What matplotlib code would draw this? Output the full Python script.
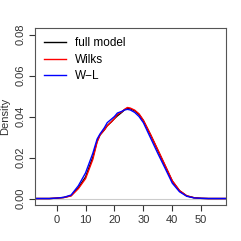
import numpy as np
import matplotlib
matplotlib.use('Agg')
import matplotlib.pyplot as plt

plt.rcParams['font.family'] = ['Liberation Sans', 'DejaVu Sans']

# density curves
x = [-8, -5, -2.5, 0, 2.5, 5, 7.5, 10, 12.5, 14, 15, 16.5, 17.5, 19, 20, 21,
     22.5, 23.5, 24.5, 25.5, 27, 28.5, 30, 32.5, 35, 37.5, 40, 42.5, 45,
     47.5, 50, 52.5, 56, 59]
full_model = [0, 0, 0, 0.0002, 0.0005, 0.0014, 0.0052, 0.0105, 0.020, 0.028,
              0.031, 0.0335, 0.0355, 0.0375, 0.039, 0.0403, 0.042, 0.0433,
              0.0441, 0.0438, 0.0428, 0.041, 0.038, 0.031, 0.0235, 0.016,
              0.0085, 0.0038, 0.0013, 0.0004, 0.0001, 0, 0, 0]
wilks = [0, 0, 0, 0.0002, 0.0005, 0.0013, 0.0048, 0.0097, 0.019, 0.0275,
         0.031, 0.0335, 0.0355, 0.0375, 0.039, 0.041, 0.0423, 0.0435,
         0.0444, 0.0441, 0.0431, 0.0413, 0.0382, 0.0312, 0.0238, 0.0163,
         0.0087, 0.0039, 0.0013, 0.0004, 0.0001, 0, 0, 0]
wl = [0, 0, 0, 0.0002, 0.0006, 0.0017, 0.0062, 0.0125, 0.022, 0.029,
      0.0315, 0.0345, 0.037, 0.0388, 0.040, 0.0417, 0.0425, 0.0432,
      0.0435, 0.0432, 0.042, 0.040, 0.037, 0.0295, 0.022, 0.0148,
      0.0075, 0.0033, 0.0011, 0.0003, 0.0001, 0, 0, 0]
labels = ['full model', 'Wilks', 'W\u2212L']
colors = ['black', 'red', 'blue']

fig = plt.figure(figsize=(2.41, 2.41), dpi=100)
ax = fig.add_axes([0.145, 0.149, 0.793, 0.735])

ax.axhline(0, color='#cccccc', lw=0.8)
for y, lab, c in zip([full_model, wilks, wl], labels, colors):
    ax.plot(x, y, color=c, lw=1.0, label=lab)

ax.set_xlim(-7.5, 58.6)
ax.set_ylim(-0.0032, 0.0832)
ax.set_xticks([0, 10, 20, 30, 40, 50])
ax.set_yticks([0, 0.02, 0.04, 0.06, 0.08])
ax.set_yticklabels(['0.00', '0.02', '0.04', '0.06', '0.08'], rotation=90, va='center')
ax.tick_params(direction='out', length=4, width=0.8, labelsize=8, colors='#333333', pad=3)
ax.set_ylabel('Density', fontsize=8, color='#333333', labelpad=4)
for s in ax.spines.values():
    s.set_color('#555555')
    s.set_linewidth(0.8)

ax.legend(loc='upper left', frameon=False, fontsize=8.5, handlelength=1.8,
          handletextpad=0.8, labelspacing=0.38, borderaxespad=0.4,
          bbox_to_anchor=(0.0, 1.0))

fig.savefig('out.png', dpi=100)
